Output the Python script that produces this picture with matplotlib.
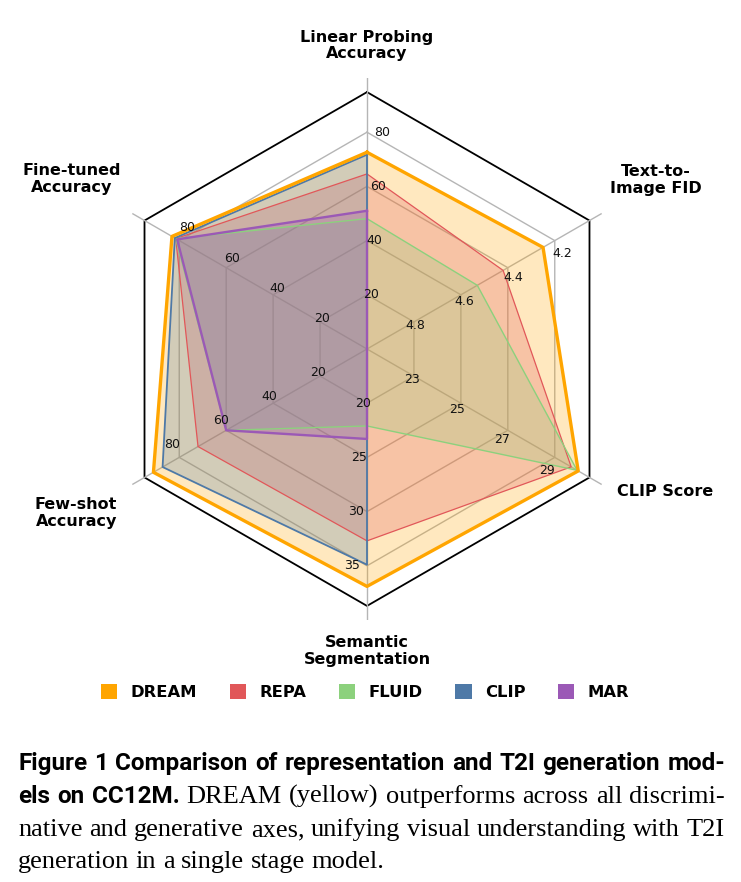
import numpy as np
import matplotlib
matplotlib.use("Agg")
import matplotlib.pyplot as plt
from matplotlib.patches import Patch

# Axes of the radar chart (clockwise from the top)
axis_names = ["Linear Probing\nAccuracy", "Text-to-\nImage FID", "CLIP Score",
              "Semantic\nSegmentation", "Few-shot\nAccuracy", "Fine-tuned\nAccuracy"]
# value at the centre and value step per grid ring for each axis
axis_origin = [0, 5.0, 21, 15, 0, 0]
axis_step = [20, -0.2, 2, 5, 20, 20]
tick_labels = [["20", "40", "60", "80"],
               ["4.8", "4.6", "4.4", "4.2"],
               ["23", "25", "27", "29"],
               ["20", "25", "30", "35"],
               ["20", "40", "60", "80"],
               ["20", "40", "60", "80"]]

# Model scores (nan = not reported, drawn at the centre)
models = ["DREAM", "REPA", "FLUID", "CLIP", "MAR"]
dream = [72.6, 4.25, 30.0, 36.9, 91.0, 83.1]
repa = [64.6, 4.42, 29.7, 32.7, 72.0, 81.5]
fluid = [48.1, 4.53, 29.95, 22.1, 60.0, 81.5]
clip = [71.7, np.nan, np.nan, 34.9, 87.1, 81.9]
mar = [51.0, np.nan, np.nan, 23.3, 60.0, 80.9]
colors = ["#FFA500", "#E15759", "#8CD17D", "#4E79A7", "#9B59B6"]
widths = [2.4, 0.9, 1.0, 1.3, 1.7]

W, H = 741, 882
fig = plt.figure(figsize=(W / 100, H / 100), dpi=100)
ax = fig.add_axes([96 / W, (H - 349 - 271) / H, 542 / W, 542 / H], projection="polar")
ax.set_theta_offset(np.pi / 2)
ax.set_theta_direction(-1)
ax.set_ylim(0, 5)
ax.set_facecolor("none")
ax.spines["polar"].set_visible(False)

angles = np.arange(len(axis_names)) * 2 * np.pi / len(axis_names)
closed = np.append(angles, angles[0])

ax.set_xticks(angles)
ax.set_xticklabels([])
ax.set_yticks([])
ax.xaxis.grid(True, color="#b5b5b5", lw=1.0)

# hexagonal grid rings and black outer frame
for k in range(1, 5):
    ax.plot(closed, [k] * len(closed), color="#b5b5b5", lw=1.0, zorder=1)
ax.plot(closed, [4.74] * len(closed), color="black", lw=1.3, zorder=1)


def to_radius(vals):
    r = (np.array(vals, dtype=float) - np.array(axis_origin)) / np.array(axis_step)
    return np.nan_to_num(r, nan=0.0)


series = [dream, repa, fluid, clip, mar]
radii = [to_radius(s) for s in series]

for r, c in zip(radii, colors):
    ax.fill(closed, np.append(r, r[0]), color=c, alpha=0.25, lw=0, zorder=2)
for i in [1, 2, 3, 4, 0]:
    r = radii[i]
    ax.plot(closed, np.append(r, r[0]), color=colors[i], lw=widths[i], zorder=3 + (i == 0))

# ring value labels, slightly clockwise of each spoke
for a, labels in zip(angles, tick_labels):
    for k, lab in enumerate(labels, start=1):
        ax.text(a + 0.07, k, lab, ha="center", va="center", fontsize=9,
                color="#111111", zorder=6)

# axis titles
label_pos = [(0.0, 5.6), (59.7, 6.17), (115.6, 6.09), (180.0, 5.57), (240.6, 6.16), (299.95, 6.28)]
for name, (deg, rr) in zip(axis_names, label_pos):
    ax.text(np.radians(deg), rr, name, ha="center", va="center", ma="center",
            fontsize=11.5, fontweight="bold", linespacing=1.15)

handles = [Patch(facecolor=c, edgecolor="none") for c in colors]
fig.legend(handles, models, loc="center", bbox_to_anchor=(365 / W, 1 - 692 / H), ncol=5,
           frameon=False, prop={"weight": "bold", "size": 11.8}, handlelength=1.0,
           handleheight=1.0, handletextpad=0.8, columnspacing=2.0)

# caption, justified line by line
sans = {"family": "Roboto", "weight": "bold", "size": 17.5}
serif = {"family": "Liberation Serif", "size": 19}
renderer = fig.canvas.get_renderer()


def draw_line(words, base_y, x0=18, x1=725, justify=True):
    texts = [fig.text(0, 1 - base_y / H, w, va="baseline", ha="left", **kw) for w, kw in words]
    ws = [t.get_window_extent(renderer).width for t in texts]
    if justify:
        gap = (x1 - x0 - sum(ws)) / (len(texts) - 1)
    else:
        gap = 0.25 * serif["size"] * 100 / 72
    x = x0
    for t, w in zip(texts, ws):
        t.set_x(x / W)
        x += w + gap


line1 = "Figure 1 Comparison of representation and T2I generation mod-".split()
draw_line([(w, sans) for w in line1], 770)
line2 = [(w, sans) for w in ["els", "on", "CC12M."]]
line2 += [(w, serif) for w in "DREAM (yellow) outperforms across all discrimi-".split()]
draw_line(line2, 803)
draw_line([(w, serif) for w in "native and generative axes, unifying visual understanding with T2I".split()], 836)
draw_line([(w, serif) for w in "generation in a single stage model.".split()], 868, justify=False)

fig.savefig("out.png", dpi=100)
